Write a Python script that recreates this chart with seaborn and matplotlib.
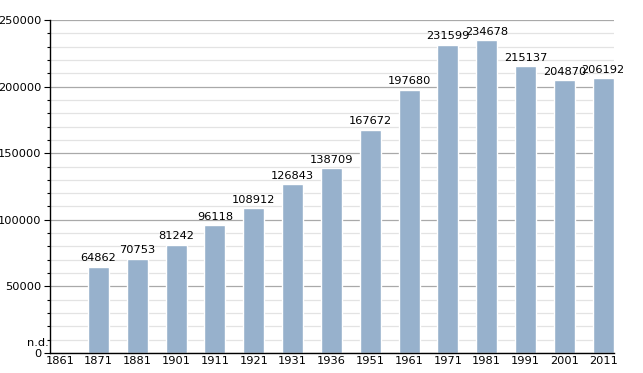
import numpy as np
import pandas as pd
import matplotlib
matplotlib.use("Agg")
import matplotlib.pyplot as plt
import seaborn as sns
from matplotlib.ticker import MultipleLocator

# Dados do gráfico
anos = ["1861", "1871", "1881", "1901", "1911", "1921", "1931", "1936",
        "1951", "1961", "1971", "1981", "1991", "2001", "2011"]
populacao = [np.nan, 64862, 70753, 81242, 96118, 108912, 126843, 138709,
             167672, 197680, 231599, 234678, 215137, 204870, 206192]

sns.set_theme(style="white")
plt.rcParams['font.family'] = ['DejaVu Sans']

df = pd.DataFrame({'ano': anos, 'populacao': populacao})

fig = plt.figure(figsize=(6.43, 3.73), dpi=100)
ax = fig.add_axes([50 / 643, 20 / 373, (614 - 50) / 643, (353 - 20) / 373])

# grade: maiores a cada 50000, menores a cada 10000
ax.yaxis.set_major_locator(MultipleLocator(50000))
ax.yaxis.set_minor_locator(MultipleLocator(10000))
ax.grid(True, which='major', axis='y', color='#a9a9a9', lw=0.9, zorder=0)
ax.grid(True, which='minor', axis='y', color='#e3e3e3', lw=0.9, zorder=0)
ax.set_axisbelow(True)

sns.barplot(data=df, x='ano', y='populacao', order=anos, color='#97b1cc',
            saturation=1, width=0.54, ax=ax, zorder=2)

# Rótulos de valor
for i, v in enumerate(populacao):
    if np.isnan(v):
        continue
    ax.text(i, v + 2500, f"{int(v)}", ha='center', va='bottom', fontsize=8.2, color='black')

ax.text(-0.27, 3600, "n.d.", ha='right', va='bottom', fontsize=8.2, color='black', clip_on=False)

ax.set_ylim(0, 250000)
ax.set_xlim(-0.25, 14.28)
ax.set_xlabel('')
ax.set_ylabel('')

for s in ['top', 'right']:
    ax.spines[s].set_visible(False)
for s in ['left', 'bottom']:
    ax.spines[s].set_color('black')
    ax.spines[s].set_linewidth(1.0)

ax.tick_params(axis='y', which='major', direction='out', length=4, width=0.8,
               left=True, labelsize=8.2, pad=2, color='black', labelcolor='black')
ax.tick_params(axis='y', which='minor', direction='out', length=2, width=0.8,
               left=True, color='black')
ax.tick_params(axis='x', which='both', bottom=False, length=0, labelsize=8.2, pad=2,
               labelcolor='black')

fig.savefig("out.png", dpi=100)
